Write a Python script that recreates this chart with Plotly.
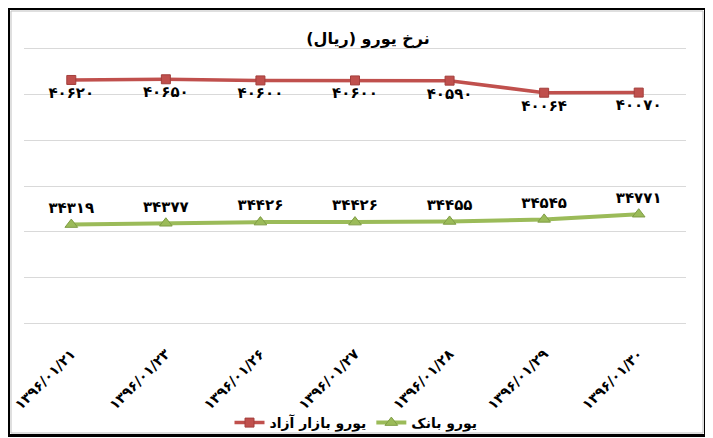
import plotly.graph_objects as go

dates = ["1396/01/21", "1396/01/23", "1396/01/26", "1396/01/27",
         "1396/01/28", "1396/01/29", "1396/01/30"]
free_market = [40620, 40650, 40600, 40600, 40590, 40064, 40070]
bank = [34319, 34377, 34426, 34426, 34455, 34545, 34771]
name_free = "یورو بازار آزاد"
name_bank = "یورو بانک"
title_text = "نرخ یورو (ریال)"

FA = str.maketrans("0123456789", "۰۱۲۳۴۵۶۷۸۹")
def fa(s):
    return str(s).translate(FA)

date_labels = [fa(d) for d in dates]
FONT = "DejaVu Sans"

fig = go.Figure()
fig.add_trace(go.Scatter(
    x=date_labels, y=free_market, name=name_free, mode="lines+markers+text",
    line=dict(color="#C0504D", width=3.5),
    marker=dict(symbol="square", size=9, color="#C0504D",
                line=dict(color="#A33F3C", width=1)),
    text=[fa(v) for v in free_market], textposition="bottom center",
    textfont=dict(family=FONT, size=15, color="black", weight="bold"),
    hoverinfo="skip",
))
fig.add_trace(go.Scatter(
    x=date_labels, y=bank, name=name_bank, mode="lines+markers+text",
    line=dict(color="#9BBB59", width=4),
    marker=dict(symbol="triangle-up", size=11, color="#9BBB59",
                line=dict(color="#7F9C45", width=1)),
    text=[fa(v) for v in bank], textposition="top center",
    textfont=dict(family=FONT, size=15, color="black", weight="bold"),
    hoverinfo="skip",
))

# page body has an 8px margin; lay out in screen pixels and compensate
OFF = 8
W, H = 713 - OFF, 438 - OFF
L, R, T, B = 24 - OFF, 27, 46 - OFF, 112
pw, ph = W - L - R, H - T - B

def px_x(x):
    return (x - OFF - L) / pw

def px_y(y):
    return (H - B - (y - OFF)) / ph

fig.update_layout(
    width=W, height=H,
    margin=dict(l=L, r=R, t=T, b=B, autoexpand=False),
    paper_bgcolor="white", plot_bgcolor="white",
    font=dict(family=FONT, color="black"),
    title=dict(text=title_text, x=(368 - OFF) / W, xanchor="center",
               y=1 - (38 - OFF) / H, yanchor="middle",
               font=dict(family=FONT, size=16, color="black", weight="bold")),
    xaxis=dict(type="category", tickangle=-45, showgrid=False, showline=False,
               ticks="", automargin=False, ticklabelstandoff=16,
               tickfont=dict(family=FONT, size=14, color="black",
                             weight="bold"),
               range=[-0.5, len(dates) - 0.5]),
    yaxis=dict(range=[29900, 42100], dtick=2000, tick0=30000,
               showticklabels=False,
               gridcolor="#D9D9D9", gridwidth=1, zeroline=False,
               showline=False, ticks="", automargin=False),
    legend=dict(orientation="h", x=px_x(356), xanchor="center",
                y=px_y(423), yanchor="middle",
                font=dict(family=FONT, size=14, color="black", weight="bold"),
                itemwidth=30, bgcolor="rgba(0,0,0,0)"),
    shapes=[
        dict(type="rect", xref="paper", yref="paper",
             x0=px_x(8.5), x1=px_x(705.5), y0=px_y(435.5), y1=px_y(8.5),
             line=dict(color="black", width=3), layer="above"),
        dict(type="rect", xref="paper", yref="paper",
             x0=px_x(11), x1=px_x(703), y0=px_y(433), y1=px_y(11),
             line=dict(color="#BFBFBF", width=1), layer="above"),
    ],
)

fig.write_html("out.html")
